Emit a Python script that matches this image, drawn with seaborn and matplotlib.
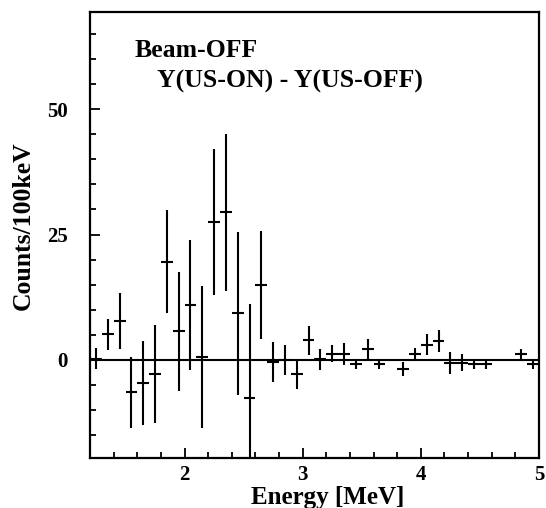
import numpy as np
import matplotlib
matplotlib.use("Agg")
import matplotlib.pyplot as plt
import seaborn as sns
from matplotlib.ticker import MultipleLocator

# --- data (bin centres, 100 keV bins) ---
energy = [1.25, 1.35, 1.45, 1.55, 1.65, 1.75, 1.85, 1.95, 2.05, 2.15,
          2.25, 2.35, 2.45, 2.55, 2.65, 2.75, 2.85, 2.95, 3.05, 3.15,
          3.25, 3.35, 3.45, 3.55, 3.65, 3.85, 3.95, 4.05, 4.15, 4.25,
          4.35, 4.45, 4.55, 4.85, 4.95]
counts = [0.2, 5.1, 7.7, -6.5, -4.6, -2.8, 19.6, 5.7, 11.0, 0.5,
          27.5, 29.4, 9.3, -7.6, 14.9, -0.5, 0.0, -2.8, 3.9, 0.1,
          1.2, 1.1, -0.9, 2.2, -0.9, -1.9, 1.2, 3.0, 3.8, -0.6,
          -0.6, -0.9, -0.9, 1.2, -0.9]
count_err = [2.1, 3.1, 5.6, 7.1, 8.4, 9.8, 10.3, 11.9, 13.0, 14.2,
             14.5, 15.7, 16.3, 18.8, 10.8, 4.0, 3.0, 3.0, 2.9, 2.1,
             1.7, 2.2, 1.0, 2.0, 1.0, 1.4, 1.1, 2.1, 2.2, 2.2,
             1.7, 1.0, 1.0, 1.0, 1.0]
bin_half = 0.05

sns.set_theme(style="ticks")
plt.rcParams['font.family'] = ['Liberation Serif', 'DejaVu Serif']
plt.rcParams['font.weight'] = 'bold'
plt.rcParams['text.color'] = 'black'
plt.rcParams['axes.labelcolor'] = 'black'
plt.rcParams['xtick.color'] = 'black'
plt.rcParams['ytick.color'] = 'black'

fig = plt.figure(figsize=(5.46, 5.08), dpi=100)
ax = fig.add_axes([0.165, 0.0984, 0.822, 0.878])

ax.axhline(0, color='black', lw=1.5, zorder=1)
ax.errorbar(energy, counts, yerr=count_err, xerr=bin_half, fmt='none',
            ecolor='black', elinewidth=1.5, capsize=0, zorder=2)

ax.set_xlim(1.2, 5.0)
ax.set_ylim(-19.7, 69.5)

ax.xaxis.set_major_locator(MultipleLocator(1))
ax.xaxis.set_minor_locator(MultipleLocator(0.2))
ax.yaxis.set_major_locator(MultipleLocator(25))
ax.yaxis.set_minor_locator(MultipleLocator(5))
ax.tick_params(which='both', direction='in', colors='black', width=1.3,
               labelsize=15, top=False, right=False)
ax.tick_params(which='major', length=7)
ax.tick_params(which='minor', length=4)
ax.tick_params(axis='y', which='major', pad=16)
ax.tick_params(axis='x', which='major', pad=5)
for lab in ax.get_xticklabels() + ax.get_yticklabels():
    lab.set_fontweight('bold')
    lab.set_color('black')

for side in ax.spines.values():
    side.set_linewidth(1.6)
    side.set_color('black')

ax.set_xlabel("Energy [MeV]", fontsize=18, fontweight='bold', color='black')
ax.set_ylabel("Counts/100keV", fontsize=18.5, fontweight='bold', color='black')
ax.xaxis.set_label_coords(0.53, -0.063)
ax.yaxis.set_label_coords(-0.123, 0.52)

ax.text(0.10, 0.899, "Beam-OFF", transform=ax.transAxes, fontsize=18.5,
        fontweight='bold', va='baseline', ha='left', color='black')
ax.text(0.149, 0.830, "Y(US-ON) - Y(US-OFF)", transform=ax.transAxes,
        fontsize=18.5, fontweight='bold', va='baseline', ha='left', color='black')

fig.savefig("out.png", dpi=100)
